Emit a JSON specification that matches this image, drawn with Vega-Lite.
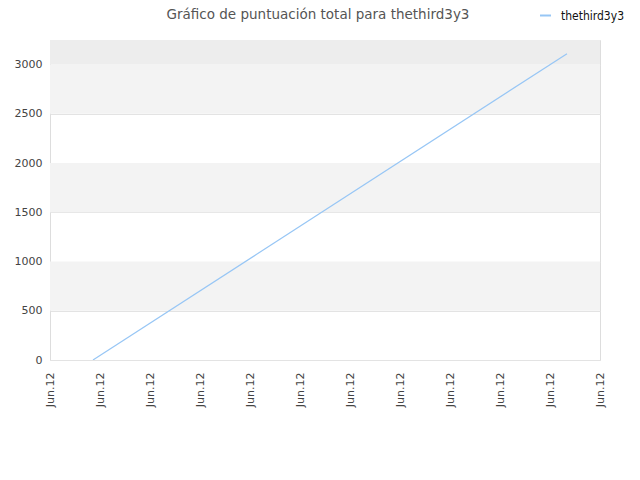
{
  "$schema": "https://vega.github.io/schema/vega-lite/v6.json",
  "description": "Gráfico de puntuación total para thethird3y3",
  "width": 550,
  "height": 320,
  "autosize": {"type": "none"},
  "padding": {"left": 50, "top": 40, "right": 40, "bottom": 120},
  "background": "white",
  "config": {
    "font": "DejaVu Sans",
    "view": {"stroke": "#dddddd"},
    "axis": {"labelColor": "#444444", "labelFontSize": 11, "ticks": false, "domain": false, "gridColor": "#e3e3e3"}
  },
  "title": {"text": "Gráfico de puntuación total para thethird3y3", "fontSize": 13.5, "fontWeight": "normal", "color": "#555555", "anchor": "middle", "frame": "group", "offset": -12, "dx": -7, "font": "DejaVu Sans"},
  "datasets": {
    "bands": [
      {"lo": 500, "hi": 1000, "tone": "b"},
      {"lo": 1500, "hi": 2000, "tone": "b"},
      {"lo": 2500, "hi": 3000, "tone": "b"},
      {"lo": 3000, "hi": 3250, "tone": "c"}
    ],
    "scores": [
      {"t": 0.86, "score": 0, "user": "thethird3y3"},
      {"t": 10.34, "score": 3111, "user": "thethird3y3"}
    ]
  },
  "layer": [
    {
      "data": {"name": "bands"},
      "mark": {"type": "rect"},
      "encoding": {
        "y": {
          "field": "lo", "type": "quantitative", "title": null,
          "scale": {"domain": [0, 3250], "nice": false},
          "axis": {"values": [0, 500, 1000, 1500, 2000, 2500, 3000], "format": "d", "labelPadding": 8, "grid": true}
        },
        "y2": {"field": "hi"},
        "color": {"field": "tone", "type": "nominal", "scale": {"domain": ["b", "c"], "range": ["#f3f3f3", "#ededed"]}, "legend": null}
      }
    },
    {
      "data": {"name": "scores"},
      "mark": {"type": "line", "strokeWidth": 1.2, "clip": true},
      "encoding": {
        "x": {
          "field": "t", "type": "quantitative", "title": null,
          "scale": {"domain": [0, 11], "nice": false, "zero": false},
          "axis": {"values": [0, 1, 2, 3, 4, 5, 6, 7, 8, 9, 10, 11], "labelExpr": "'Jun.12'", "labelAngle": -90, "labelAlign": "right", "labelBaseline": "middle", "labelPadding": 12, "grid": false}
        },
        "y": {"field": "score", "type": "quantitative"},
        "color": {
          "field": "user", "type": "nominal", "title": null,
          "scale": {"range": ["#97c6f5"]},
          "legend": {"orient": "none", "legendX": 489, "legendY": -31, "symbolType": "stroke", "symbolSize": 120, "symbolStrokeWidth": 2, "labelOffset": 9, "labelFontSize": 12, "labelColor": "#111111", "labelFont": "DejaVu Sans Condensed"}
        }
      }
    }
  ],
  "resolve": {"scale": {"color": "independent"}}
}
